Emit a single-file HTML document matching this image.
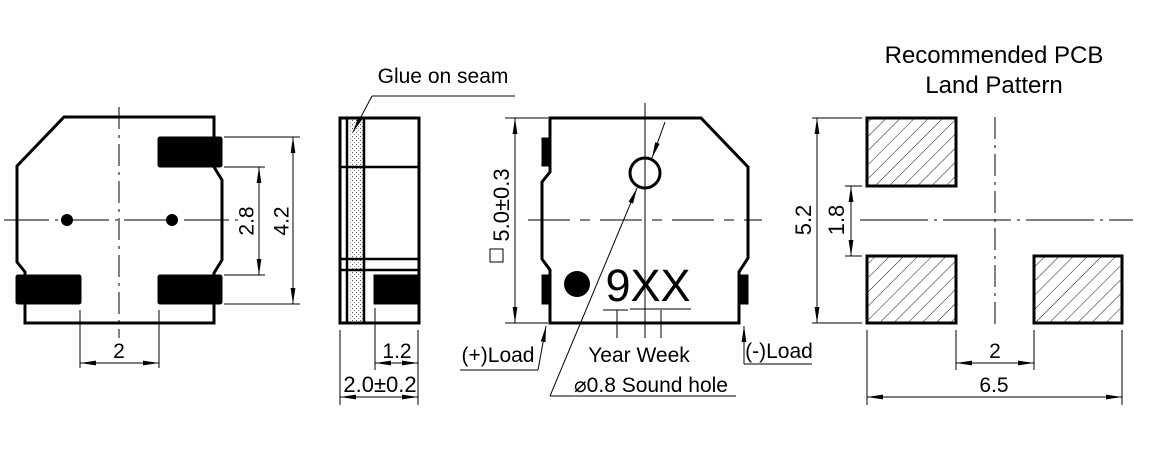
<!DOCTYPE html>
<html><head><meta charset="utf-8"><style>
html,body{margin:0;padding:0;background:#fff;}
svg{display:block;font-family:"Liberation Sans",sans-serif;}
</style></head><body>
<svg width="1151" height="456" viewBox="0 0 1151 456" xmlns="http://www.w3.org/2000/svg">
<defs>
<marker id="a" viewBox="0 0 16 6" refX="16" refY="3" markerWidth="16" markerHeight="6" markerUnits="userSpaceOnUse" orient="auto-start-reverse">
<path d="M0,0.6 L16,3 L0,5.4 Z" fill="#000"/></marker>
<pattern id="h" width="10" height="10" patternUnits="userSpaceOnUse" patternTransform="rotate(45)">
<line x1="0" y1="0" x2="0" y2="10" stroke="#000" stroke-width="0.9"/></pattern>
<pattern id="g" width="4" height="4" patternUnits="userSpaceOnUse">
<rect x="0" y="0" width="1" height="1" fill="#555"/><rect x="2" y="2" width="1" height="1" fill="#888"/></pattern>
</defs>
<g fill="none" stroke="#000">
<!-- VIEW 1 -->
<path d="M64,117 L214,117 L214,167 L222,180 L222,260 L214,273 L214,323 L25,323 L25,272 L17,262 L17,166 Z" stroke-width="3"/>
<rect x="158" y="137" width="64" height="30" fill="#000" rx="2"/>
<rect x="16" y="275" width="65" height="29" fill="#000" rx="2"/>
<rect x="158" y="275" width="64" height="29" fill="#000" rx="2"/>
<line x1="119" y1="107" x2="119" y2="338" stroke-width="1" stroke-dasharray="22,6,3,6"/>
<line x1="4" y1="220" x2="240" y2="220" stroke-width="1" stroke-dasharray="45,6,3,6"/>
<circle cx="67" cy="220" r="6" fill="#000" stroke="none"/>
<circle cx="172" cy="220" r="6" fill="#000" stroke="none"/>
<g stroke-width="1">
<line x1="224" y1="167" x2="265" y2="167"/><line x1="224" y1="275" x2="265" y2="275"/>
<line x1="259" y1="167" x2="259" y2="275" marker-start="url(#a)" marker-end="url(#a)"/>
<line x1="224" y1="137" x2="300" y2="137"/><line x1="224" y1="304" x2="300" y2="304"/>
<line x1="293" y1="137" x2="293" y2="304" marker-start="url(#a)" marker-end="url(#a)"/>
<line x1="80" y1="310" x2="80" y2="368"/><line x1="159" y1="310" x2="159" y2="368"/>
<line x1="80" y1="363" x2="159" y2="363" marker-start="url(#a)" marker-end="url(#a)"/>
</g>
<!-- VIEW 2 -->
<rect x="350" y="118" width="14" height="205" fill="url(#g)" stroke="none"/>
<rect x="340" y="118" width="79" height="205" stroke-width="3"/>
<line x1="347" y1="118" x2="347" y2="323" stroke-width="2.5"/>
<line x1="364" y1="118" x2="364" y2="323" stroke-width="2.5"/>
<line x1="340" y1="167" x2="419" y2="167" stroke-width="2.5"/>
<line x1="340" y1="259" x2="419" y2="259" stroke-width="2.5"/>
<line x1="340" y1="270" x2="419" y2="270" stroke-width="2.5"/>
<rect x="374" y="275" width="45" height="29" fill="#000"/>
<g stroke-width="1">
<line x1="515" y1="96" x2="372" y2="96"/>
<line x1="372" y1="96" x2="353" y2="132" marker-end="url(#a)"/>
<line x1="375" y1="308" x2="375" y2="370"/><line x1="418" y1="330" x2="418" y2="405"/>
<line x1="375" y1="363" x2="418" y2="363" marker-start="url(#a)" marker-end="url(#a)"/>
<line x1="340" y1="330" x2="340" y2="405"/>
<line x1="340" y1="397" x2="418" y2="397" marker-start="url(#a)" marker-end="url(#a)"/>
</g>
<!-- VIEW 3 -->
<path d="M550,118 L701,118 L748,167 L748,258 L739,272 L739,323 L550,323 L550,270 L542,259 L542,182 L550,172 Z" stroke-width="3"/>
<rect x="542" y="138" width="8" height="28" fill="#000"/>
<rect x="542" y="275" width="8" height="29" fill="#000"/>
<rect x="740" y="275" width="8" height="29" fill="#000"/>
<circle cx="645" cy="173" r="15" stroke-width="3"/>
<line x1="645" y1="103" x2="645" y2="338" stroke-width="1"/>
<line x1="528" y1="220" x2="762" y2="220" stroke-width="1" stroke-dasharray="42,10,10,10"/>
<circle cx="577" cy="284" r="13" fill="#000" stroke="none"/>
<g stroke-width="1">
<line x1="603" y1="310" x2="628" y2="310"/><line x1="630" y1="309" x2="691" y2="309"/>
<line x1="617" y1="310" x2="617" y2="338"/><line x1="645" y1="310" x2="645" y2="338"/><line x1="661" y1="310" x2="661" y2="338"/>
<line x1="550" y1="396" x2="736" y2="396"/>
<line x1="550" y1="396" x2="637" y2="188" marker-end="url(#a)"/>
<line x1="665" y1="122" x2="652" y2="158" marker-end="url(#a)"/>
<line x1="460" y1="370" x2="538" y2="370"/>
<line x1="538" y1="370" x2="546" y2="326" marker-end="url(#a)"/>
<line x1="812" y1="364" x2="744" y2="364"/>
<line x1="744" y1="364" x2="744" y2="326" marker-end="url(#a)"/>
<line x1="505" y1="118" x2="548" y2="118"/><line x1="505" y1="323" x2="548" y2="323"/>
<line x1="515" y1="118" x2="515" y2="323" marker-start="url(#a)" marker-end="url(#a)"/>
<rect x="490" y="249" width="13" height="13"/>
</g>
<!-- VIEW 4 -->
<rect x="867" y="118" width="89" height="68" fill="url(#h)" stroke-width="3"/>
<rect x="867" y="256" width="89" height="67" fill="url(#h)" stroke-width="3"/>
<rect x="1034" y="256" width="88" height="67" fill="url(#h)" stroke-width="3"/>
<line x1="995" y1="117" x2="995" y2="330" stroke-width="1" stroke-dasharray="22,6,3,6"/>
<line x1="860" y1="220" x2="1133" y2="220" stroke-width="1" stroke-dasharray="68,6,3,6"/>
<g stroke-width="1">
<line x1="812" y1="118" x2="862" y2="118"/><line x1="812" y1="323" x2="862" y2="323"/>
<line x1="817" y1="118" x2="817" y2="323" marker-start="url(#a)" marker-end="url(#a)"/>
<line x1="845" y1="186" x2="862" y2="186"/><line x1="845" y1="256" x2="862" y2="256"/>
<line x1="851" y1="186" x2="851" y2="256" marker-start="url(#a)" marker-end="url(#a)"/>
<line x1="956" y1="330" x2="956" y2="370"/><line x1="1034" y1="330" x2="1034" y2="370"/>
<line x1="956" y1="363" x2="1034" y2="363" marker-start="url(#a)" marker-end="url(#a)"/>
<line x1="867" y1="330" x2="867" y2="405"/><line x1="1122" y1="330" x2="1122" y2="405"/>
<line x1="867" y1="397" x2="1122" y2="397" marker-start="url(#a)" marker-end="url(#a)"/>
</g>
</g>
<g fill="#000" font-size="21" text-anchor="middle">
<text x="248" y="221" transform="rotate(-90 248 221)" dominant-baseline="middle">2.8</text>
<text x="283" y="221" transform="rotate(-90 283 221)" dominant-baseline="middle">4.2</text>
<text x="119" y="358">2</text>
<text x="443" y="83" font-size="21">Glue on seam</text>
<text x="397" y="358">1.2</text>
<text x="380" y="392" font-size="22">2.0±0.2</text>
<text x="503" y="205" transform="rotate(-90 503 205)" dominant-baseline="middle" font-size="22">5.0±0.3</text>
<text x="648" y="301" font-size="45">9XX</text>
<text x="639" y="362">Year Week</text>
<text x="498" y="362">(+)Load</text>
<text x="779" y="358">(-)Load</text>
<text x="651" y="392" font-size="21">⌀0.8 Sound hole</text>
<text x="994" y="63" font-size="24">Recommended PCB</text>
<text x="994" y="93" font-size="24">Land Pattern</text>
<text x="805" y="220" transform="rotate(-90 805 220)" dominant-baseline="middle" font-size="22">5.2</text>
<text x="838" y="220" transform="rotate(-90 838 220)" dominant-baseline="middle" font-size="22">1.8</text>
<text x="995" y="358">2</text>
<text x="994" y="392">6.5</text>
</g>
</svg>
</body></html>
